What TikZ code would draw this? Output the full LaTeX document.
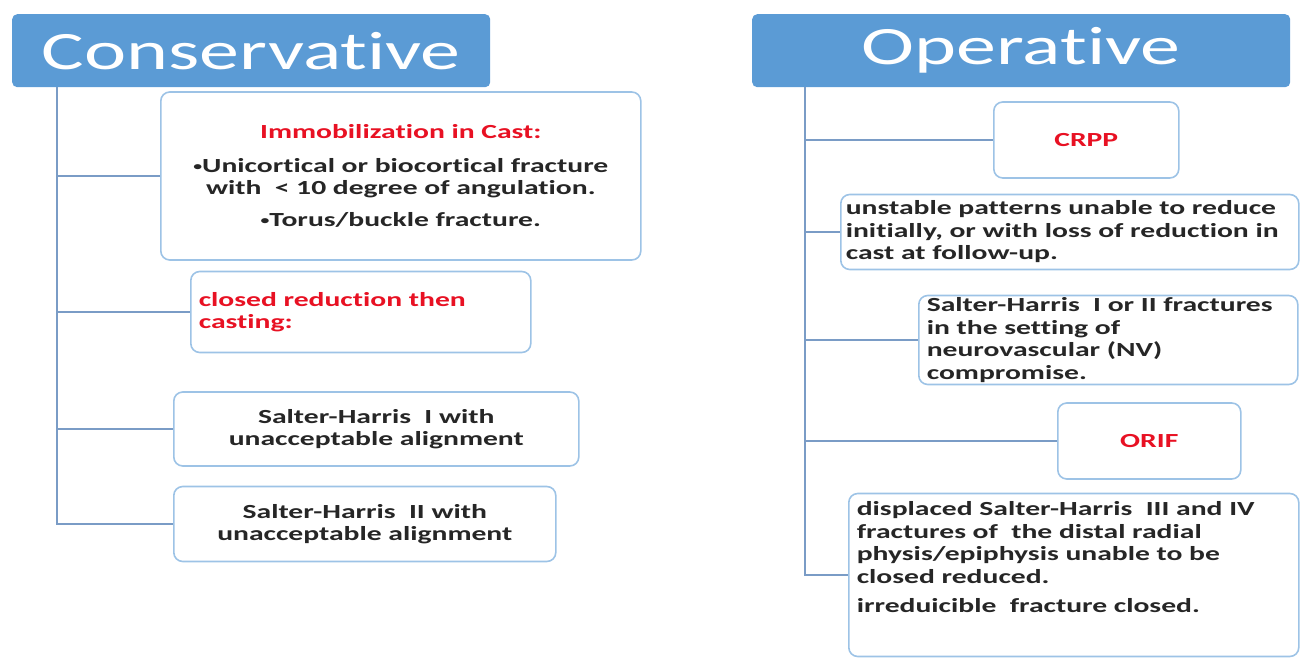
\documentclass[tikz,border=0pt]{standalone}
\usepackage{fontspec}
\setmainfont{Carlito}
\newfontfamily\headfont[FakeStretch=1.48,Ligatures=NoCommon]{Carlito}
\newfontfamily\boxfont[FakeStretch=1.48,Ligatures=NoCommon]{Carlito}
\usepackage{tikz}

\definecolor{headblue}{HTML}{5B9BD5}
\definecolor{boxblue}{HTML}{9DC3E6}
\definecolor{linkblue}{HTML}{7A9CC6}
\definecolor{alertred}{HTML}{E81123}
\definecolor{bodytext}{HTML}{262626}

\newcommand{\dotmark}{\raisebox{2pt}{\fontsize{12}{12}\selectfont•}}

\tikzset{
  head/.style={fill=headblue, rounded corners=5pt, text=white, anchor=north west,
    minimum height=73pt, inner sep=0pt, font=\headfont\fontsize{54}{60}\selectfont},
  leaf/.style={draw=boxblue, line width=1.6pt, rounded corners=9pt, fill=white,
    anchor=west, inner xsep=8pt, inner ysep=0pt, text=bodytext,
    font=\boxfont\bfseries\fontsize{20}{22.5}\selectfont},
  link/.style={draw=linkblue, line width=1.5pt},
  alert/.style={text=alertred}
}

\begin{document}
\begin{tikzpicture}[x=1pt,y=-1pt]
    \useasboundingbox (0,0) rectangle (1312,660);

    % Headers
    \node[head, minimum width=478pt] (cons) at (12,14) {Conservative};
    \node[head, minimum width=538pt] (oper) at (752,14) {Operative};

    % Conservative branch
    \node[leaf, text width=464pt, minimum height=168pt, align=center] (c1) at (160,176)
        {{\color{alertred}Immobilization in Cast:}\\[11pt]
         \dotmark Unicortical or biocortical fracture\\
         with \ < 10 degree of angulation.\\[9pt]
         \dotmark Torus/buckle fracture.};
    \node[leaf, text width=324pt, minimum height=81pt, align=left, alert] (c2) at (190,312)
        {closed reduction then\\casting:};
    \node[leaf, text width=389pt, minimum height=74pt, align=center] (c3) at (173,429)
        {Salter-Harris \ I with\\unacceptable alignment};
    \node[leaf, text width=366pt, minimum height=75pt, align=center] (c4) at (173,524)
        {Salter-Harris \ II with\\unacceptable alignment};

    % Operative branch
    \node[leaf, text width=169pt, minimum height=76pt, align=center, alert] (o1) at (993,140) {CRPP};
    \node[leaf, text width=448pt, inner xsep=5pt, minimum height=75pt, align=left] (o2) at (840,232)
        {unstable patterns unable to reduce\\
         initially, or with loss of reduction in\\
         cast at follow-up.};
    \node[leaf, text width=363pt, minimum height=89pt, align=left] (o3) at (918,340)
        {Salter-Harris \ I or II fractures\\
         in the setting of\\
         neurovascular (NV)\\
         compromise.};
    \node[leaf, text width=167pt, minimum height=76pt, align=center, alert] (o4) at (1057,441) {ORIF};
    \node[leaf, text width=434pt, minimum height=163pt, align=left] (o5) at (848,575)
        {displaced Salter-Harris \ III and IV\\
         fractures of \ the distal radial\\
         physis/epiphysis unable to be\\
         closed reduced.\\[7pt]
         irreduicible \ fracture closed.\rule[-36pt]{0pt}{0pt}};

    % Draw the connectors
    \coordinate (ctop) at ([xshift=45pt]cons.south west);
    \coordinate (otop) at ([xshift=53pt]oper.south west);
    \draw[link] (ctop) |- (c4.west);
    \foreach \b in {c1,c2,c3}
        \draw[link] (ctop |- \b.west) -- (\b.west);
    \draw[link] (otop) |- (o5.west);
    \foreach \b in {o1,o2,o3,o4}
        \draw[link] (otop |- \b.west) -- (\b.west);
\end{tikzpicture}
\end{document}
